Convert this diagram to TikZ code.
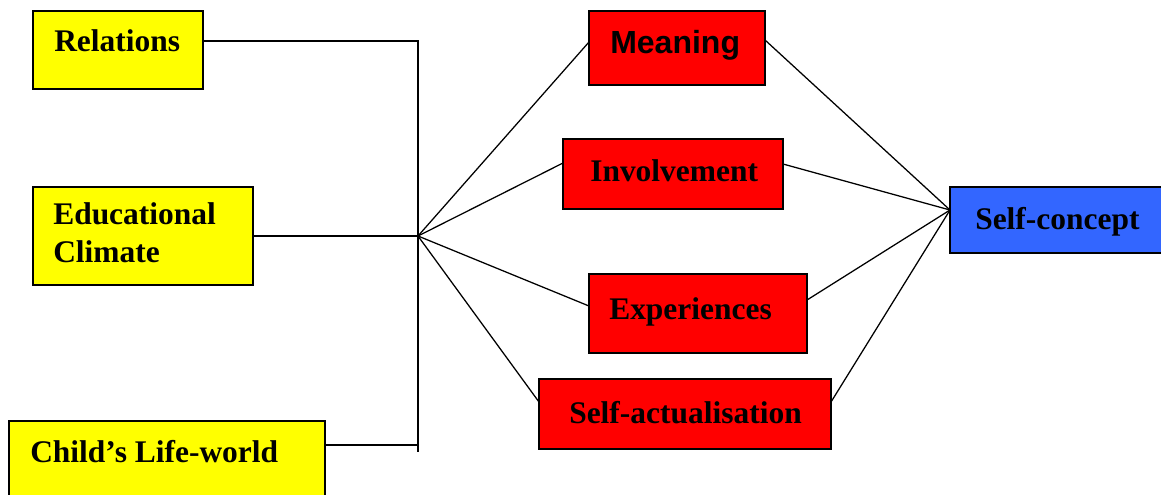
\documentclass[tikz,border=0pt]{standalone}
\usepackage{fontspec}
\setmainfont{Liberation Serif}
\newfontfamily\headsans{Liberation Sans}
\usetikzlibrary{calc}

\definecolor{boxyellow}{RGB}{255,255,0}
\definecolor{boxred}{RGB}{255,0,0}
\definecolor{boxblue}{RGB}{51,102,255}

\tikzset{
  box/.style={draw, line width=1pt, anchor=north west, inner sep=0pt, outer sep=0pt},
  sz/.style 2 args={minimum width=#1*0.75pt, minimum height=#2*0.75pt},
  txt/.style={anchor=base west, inner sep=0pt, font=\fontsize{23.6}{28.5}\selectfont\bfseries},
  link/.style={line width=0.95pt}
}

\begin{document}
\begin{tikzpicture}[x=0.75pt,y=0.75pt,yscale=-1,xscale=1]
		\useasboundingbox (0,0) rectangle (1161,494);
		
		%Shape: yellow boxes
		\node[box, fill=boxyellow, sz={170}{78}] (rel) at (33,11) {};
		\node[box, fill=boxyellow, sz={220}{98}] (edu) at (33,187) {};
		\node[box, fill=boxyellow, sz={316}{80}] (child) at (9,421) {};
		%Shape: red boxes
		\node[box, fill=boxred, sz={176}{74}] (mean) at (589,11) {};
		\node[box, fill=boxred, sz={220}{70}] (inv) at (563,139) {};
		\node[box, fill=boxred, sz={218}{79}] (exp) at (589,274) {};
		\node[box, fill=boxred, sz={292}{70}] (self) at (539,379) {};
		%Shape: blue box
		\node[box, fill=boxblue, sz={213}{66}] (sc) at (950,187) {};
		
		% Text Node
		\node[txt] (reltxt) at (54,51) {Relations};
		\node[txt, anchor=north west, align=left] (edutxt) at (53,202) {Educational\\Climate};
		\node[txt] (childtxt) at (30,462) {Child’s Life-world};
		\node[txt, font=\fontsize{24}{28.5}\selectfont\headsans\bfseries] (meantxt) at (610,53) {Meaning};
		\node[txt] (invtxt) at (590,181) {Involvement};
		\node[txt] (exptxt) at (609,319) {Experiences};
		\node[txt] (selftxt) at (569,423) {Self-actualisation};
		\node[txt] (sctxt) at (975,229) {Self-concept};
		
		%Straight Lines: bar on the left
		\coordinate (hub) at (418,236);
		\coordinate (barbot) at (418,452);
		\draw[link] ($(rel.north east)+(0,30)$) -| (barbot);
		\draw[link] (edu.east) -- (hub);
		\draw[link] ($(child.north east)+(0,24)$) -| (hub);
		
		%Straight Lines: fan to the right
		\foreach \b/\l/\r in {mean/31/29, inv/24/25, exp/32/26, self/23/23} {
			\draw[link] (hub) -- ($(\b.north west)+(0,\l)$);
			\draw[link] ($(\b.north east)+(0,\r)$) -- ($(sc.north west)+(0,23)$);
		}
		
\end{tikzpicture}
\end{document}
